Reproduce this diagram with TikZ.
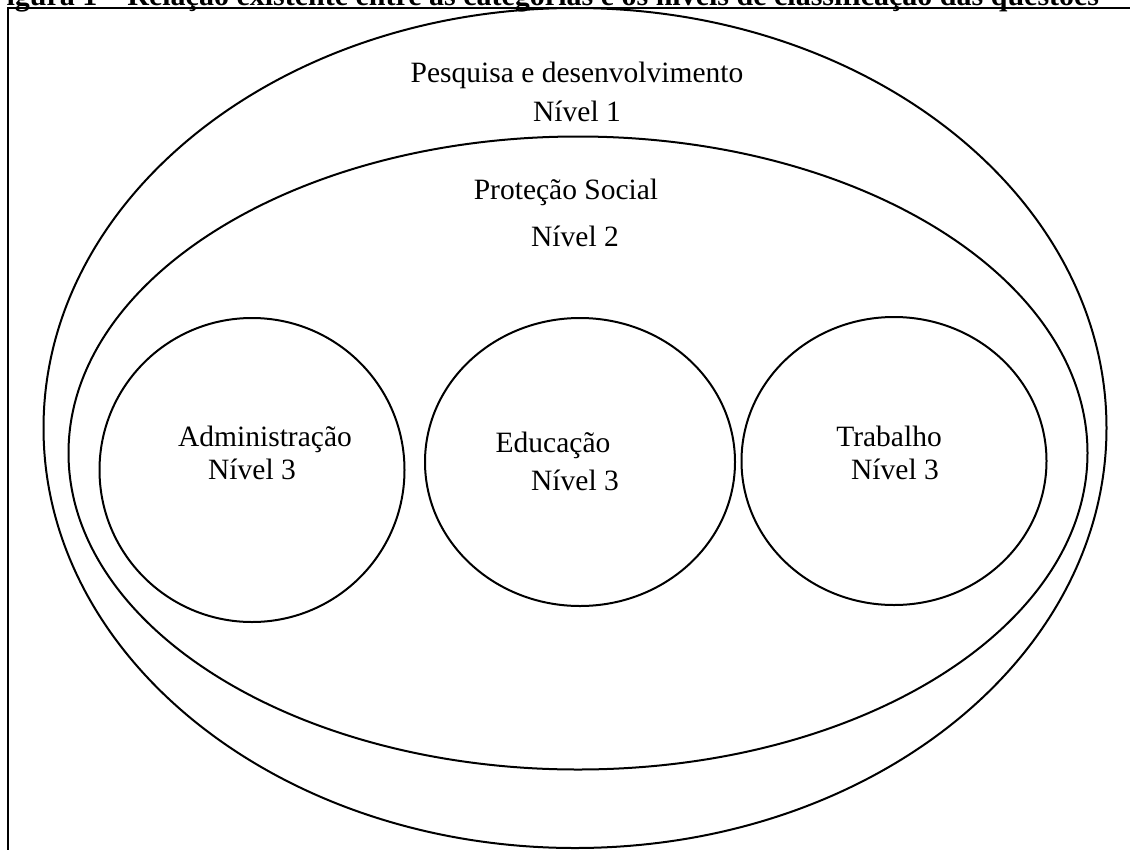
\documentclass[tikz,border=0pt]{standalone}
\usepackage{fontspec}
\setmainfont{Liberation Serif}
\usetikzlibrary{shapes.geometric}
\begin{document}
\begin{tikzpicture}[x=1pt,y=-1pt,
  ring/.style={draw=black, line width=2pt, ellipse, inner sep=0pt},
  lbl/.style={font=\fontsize{29.5}{35}\selectfont, inner sep=0pt, anchor=base},
  ttl/.style={font=\fontsize{30}{36}\selectfont\bfseries, inner sep=0pt, anchor=base west}]
\useasboundingbox (0,0) rectangle (1130,849);
\clip (0,0) rectangle (1130,849);
% frame
\draw[line width=2pt] (1140,8) -- (8,8) -- (8,860);
% title (cropped at the top edge, as in the reference)
\node[ttl] (title) at (-12,5) {Figura 1 – Relação existente entre as categorias e os níveis de classificação das questões};
% ellipses
\node[ring, minimum width=1063pt, minimum height=840pt] (outer) at (575,428) {};
\node[ring, minimum width=1019pt, minimum height=633pt] (inner) at (578,453) {};
\node[ring, minimum width=305pt, minimum height=304pt] (admin) at (252,470) {};
\node[ring, minimum width=310pt, minimum height=288pt] (edu) at (580,462) {};
\node[ring, minimum width=305pt, minimum height=288pt] (trab) at (894,461) {};
% texts
\node[lbl] (t1a) at (577,82) {Pesquisa e desenvolvimento};
\node[lbl] (t1b) at (577,121) {Nível 1};
\node[lbl] (t2a) at (566,199) {Proteção Social};
\node[lbl] (t2b) at (575,246) {Nível 2};
\node[lbl] (t3a) at (265,446) {Administração};
\node[lbl] (t3b) at (252,479) {Nível 3};
\node[lbl] (t4a) at (553,452) {Educação};
\node[lbl] (t4b) at (575,490) {Nível 3};
\node[lbl] (t5a) at (889,446) {Trabalho};
\node[lbl] (t5b) at (895,479) {Nível 3};
\end{tikzpicture}
\end{document}
